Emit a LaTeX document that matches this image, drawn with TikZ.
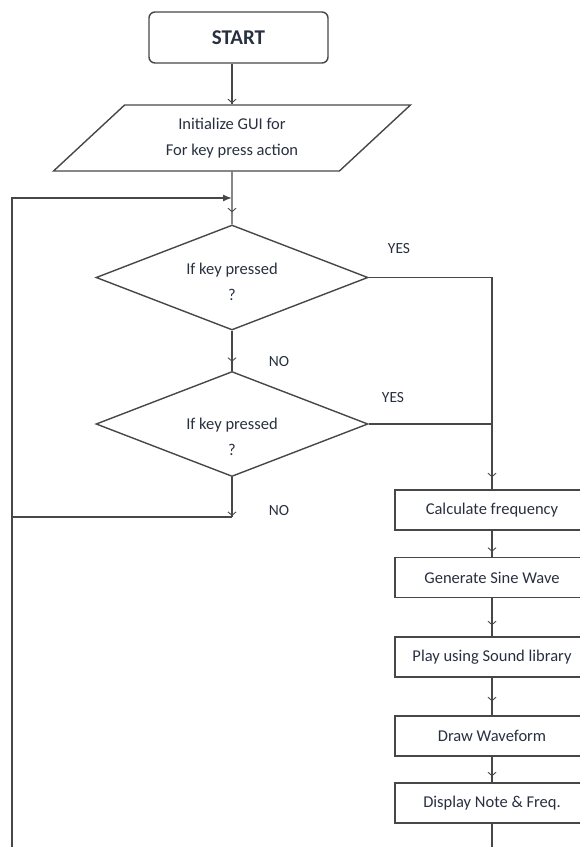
\documentclass[tikz,border=0pt]{standalone}
\usepackage{fontspec}
\setmainfont{Carlito}
\usetikzlibrary{shapes.geometric,arrows.meta,decorations.markings}
\definecolor{ln}{HTML}{474747}
\definecolor{tx}{HTML}{283040}
\begin{document}
\begin{tikzpicture}[x=1pt,y=-1pt,
  conn/.style={draw=ln, line width=1.4pt},
  tick/.style={postaction={decorate,decoration={markings,
      mark=at position #1 with {\arrow[ln,line width=0.9pt]{Straight Barb[length=3.5pt,width=8pt]}}}}},
  startbox/.style={draw=ln, line width=1.4pt, rounded corners=6pt, minimum width=179pt,
      minimum height=51pt, inner sep=0pt, font=\fontsize{21}{24}\selectfont\bfseries, text=tx},
  iobox/.style={trapezium, trapezium left angle=42.5, trapezium right angle=137.5,
      trapezium stretches=true, draw=ln, line width=1.4pt, minimum width=357pt,
      minimum height=66pt, inner sep=0pt, align=center,
      font=\fontsize{16.5}{26}\selectfont, text=tx},
  decide/.style={diamond, draw=ln, line width=1.4pt, minimum width=272pt,
      minimum height=105pt, inner sep=0pt},
  dtext/.style={inner sep=0pt, align=center, font=\fontsize{16.5}{26}\selectfont, text=tx},
  procbox/.style={draw=ln, line width=1.4pt, minimum width=194pt, minimum height=40pt,
      inner sep=0pt, font=\fontsize{16.5}{18}\selectfont, text=tx},
  lbl/.style={font=\fontsize{15.5}{17}\selectfont, text=tx, inner sep=0pt}]
\useasboundingbox (0,0) rectangle (580,847);

\node[startbox] (start) at (238.5,37.5) {START};
\node[iobox] (init) at (232,138) {Initialize GUI for\\For key press action};
\node[decide] (d1) at (232,277.5) {};
\node[dtext] (d1t) at (232,282) {If key pressed\\?};
\node[decide] (d2) at (232,424) {};
\node[dtext] (d2t) at (232,437) {If key pressed\\?};

\node[procbox] (b1) at (492,510) {Calculate frequency};
\node[procbox] (b2) at (492,577.5) {Generate Sine Wave};
\node[procbox] (b3) at (492,657) {Play using Sound library};
\node[procbox] (b4) at (492,736) {Draw Waveform};
\node[procbox] (b5) at (492,803) {Display Note \& Freq.};

\node[lbl] (yes1) at (399,249) {YES};
\node[lbl] (yes2) at (393,398) {YES};
\node[lbl] (no1) at (279,362) {NO};
\node[lbl] (no2) at (279,511) {NO};

\coordinate (j2) at (232,517);
\coordinate (lt) at (12,198);
\coordinate (lb) at (12,860);
\coordinate (lp) at (232,198);

\draw[conn, tick=-1pt] (start.south -| init.north) -- (init.north);
\draw[conn, tick=-12pt] (init.south) -- (d1.north);
\draw[conn, tick=-9pt] (d1.south) -- (d2.north);
\draw[conn, tick=-1pt] (d2.south) -- (j2);
\draw[conn] (j2) -- (j2 -| lt);
\draw[conn, -{Latex[length=9pt,width=7pt]}] (lb) -- (lt) -- (lp);

\draw[conn, tick=-12pt] (d1.east) -- (d1.east -| b1.north) -- (b1.north);
\draw[conn] (d2.east) -- (d2.east -| b1.north);
\draw[conn, tick=-5pt] (b1.south) -- (b2.north);
\draw[conn, tick=-11pt] (b2.south) -- (b3.north);
\draw[conn, tick=-14pt] (b3.south) -- (b4.north);
\draw[conn, tick=-6pt] (b4.south) -- (b5.north);
\draw[conn] (b5.south) -- (b5.south |- lb);
\end{tikzpicture}
\end{document}
